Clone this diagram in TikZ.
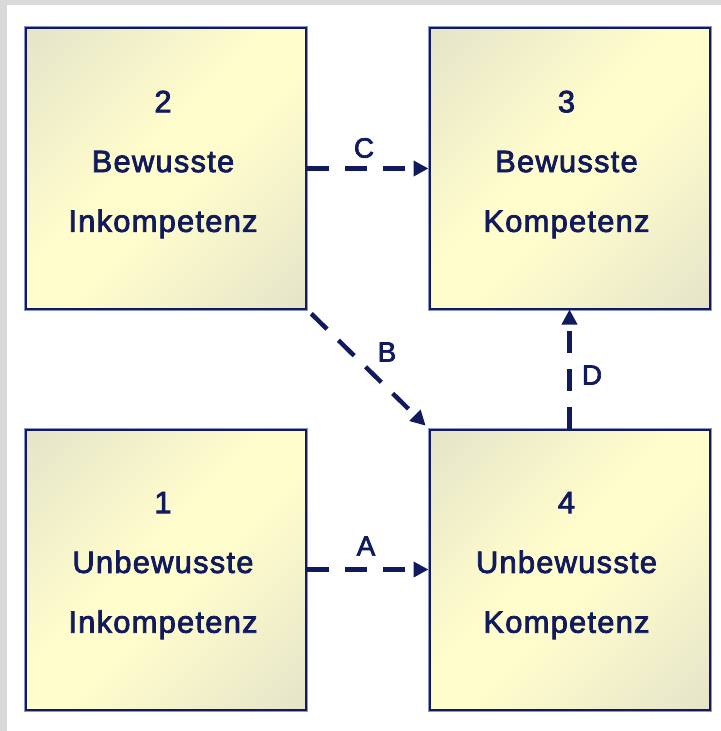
\documentclass[tikz,border=0pt]{standalone}
\usepackage{fontspec}
\setmainfont{Liberation Sans}[LetterSpace=4,FakeBold=2.5]
\usetikzlibrary{arrows.meta,calc}

\definecolor{inkblue}{RGB}{16,26,92}
\definecolor{halo}{RGB}{140,150,200}
\definecolor{framegray}{RGB}{217,217,217}
\definecolor{cornergray}{RGB}{216,216,200}
\definecolor{centeryellow}{RGB}{255,253,204}

% diagonal fill: grey corners, pale yellow across the middle
\pgfdeclarehorizontalshading{boxshade}{100bp}{%
  color(0bp)=(cornergray); color(45bp)=(centeryellow);
  color(55bp)=(centeryellow); color(100bp)=(cornergray)}

\begin{document}
\begin{tikzpicture}[x=1bp,y=-1bp,
  box/.style={rectangle, minimum size=280bp, inner sep=0pt,
    shading=boxshade, shading angle=-45,
    draw=inkblue, line width=2bp,
    preaction={draw=halo, line width=4bp}},
  txt/.style={align=center, inner sep=0pt, text=inkblue,
    font=\fontsize{31}{60}\selectfont},
  lab/.style={inner sep=0pt, text=inkblue, font=\fontsize{28}{30}\selectfont},
  arr/.style={draw=inkblue, line width=4.5bp, dash pattern=on 22bp off 16bp,
    -{Triangle[length=15bp,width=15bp]}}]

\useasboundingbox (0,0) rectangle (721,731);
% page frame
\fill[framegray] (0,0) rectangle (721,731);
\fill[white] (7,5) rectangle (721,731);

% the four stages
\node[box] (b2) at (166,168.5) {};
\node[box] (b3) at (569.5,168.5) {};
\node[box] (b1) at (166,569.5) {};
\node[box] (b4) at (569.5,569.5) {};

\node[txt] (t2) at ($(b2.center)+(-3,-4)$) {2\\Bewusste\\Inkompetenz};
\node[txt] (t3) at ($(b3.center)+(-3,-4)$) {3\\Bewusste\\Kompetenz};
\node[txt] (t1) at ($(b1.center)+(-3,-4)$) {1\\Unbewusste\\Inkompetenz};
\node[txt] (t4) at ($(b4.center)+(-3,-4)$) {4\\Unbewusste\\Kompetenz};

% transitions
\draw[arr] (b1.east) -- (b4.west);
\draw[arr, shorten <=6bp, shorten >=4bp] (b2.south east) -- (b4.north west);
\draw[arr] (b2.east) -- (b3.west);
\draw[arr] (b4.north) -- (b3.south);

\node[lab] (la) at (366,546) {A};
\node[lab] (lb) at (387,352) {B};
\node[lab] (lc) at (364,148) {C};
\node[lab] (ld) at (592,375) {D};
\end{tikzpicture}
\end{document}
